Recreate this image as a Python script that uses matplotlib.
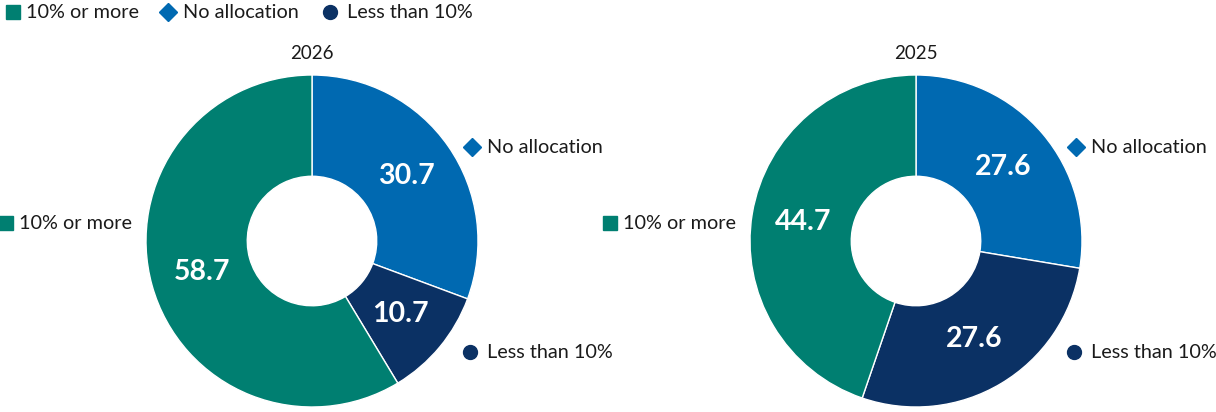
import numpy as np
import matplotlib
matplotlib.use("Agg")
import matplotlib.pyplot as plt

plt.rcParams["font.family"] = ["Lato", "DejaVu Sans"]

categories = ["No allocation", "Less than 10%", "10% or more"]
years = ["2026", "2025"]
values_2026 = [30.7, 10.7, 58.7]
values_2025 = [27.6, 27.6, 44.7]

colors = {"No allocation": "#0069B1", "Less than 10%": "#0B3164", "10% or more": "#007F71"}
markers = {"No allocation": "D", "Less than 10%": "o", "10% or more": "s"}
msizes = {"No allocation": 9, "Less than 10%": 10, "10% or more": 10}
gaps = {"No allocation": 15, "Less than 10%": 17, "10% or more": 13}

W, H = 1216, 412
fig = plt.figure(figsize=(W / 100, H / 100), dpi=100)
ax = fig.add_axes([0, 0, 1, 1])
ax.set_xlim(0, W)
ax.set_ylim(0, H)
ax.set_aspect("equal")
ax.axis("off")

R = 166
centers = [(312, 171), (916, 171)]

# callout offsets (pixels, from donut center)
callout = {"No allocation": (160, 94), "Less than 10%": (158, -111), "10% or more": (-306, 18)}

for year, vals, (cx, cy) in zip(years, [values_2026, values_2025], centers):
    wedges, _ = ax.pie(vals, colors=[colors[c] for c in categories], startangle=90,
                       counterclock=False, center=(cx, cy), radius=R,
                       wedgeprops=dict(width=R * 0.61, edgecolor="white", linewidth=1))
    for w, v in zip(wedges, vals):
        mid = np.deg2rad((w.theta1 + w.theta2) / 2)
        d = R * 0.69
        ax.text(cx + d * np.cos(mid), cy + d * np.sin(mid), f"{v:.1f}", color="white",
                fontsize=20.5, fontweight="bold", ha="center", va="center")
    ax.text(cx, 359, year, fontsize=13.5, ha="center", va="center", color="#1a1a1a")
    for c in categories:
        ox, oy = callout[c]
        ax.plot(cx + ox, cy + oy, marker=markers[c], markersize=msizes[c], color=colors[c],
                linestyle="none", clip_on=False)
        ax.text(cx + ox + gaps[c], cy + oy, c, fontsize=14.3, ha="left", va="center",
                color="#1a1a1a")

# top legend
leg_items = [("10% or more", 13), ("No allocation", 168), ("Less than 10%", 330)]
for c, x in leg_items:
    ax.plot(x, H - 12, marker=markers[c], markersize=msizes[c], color=colors[c],
            linestyle="none", clip_on=False)
    ax.text(x + gaps[c], H - 12, c, fontsize=14.3, ha="left", va="center", color="#1a1a1a")

ax.set_xlim(0, W)
ax.set_ylim(0, H)
fig.savefig("out.png", dpi=100)
